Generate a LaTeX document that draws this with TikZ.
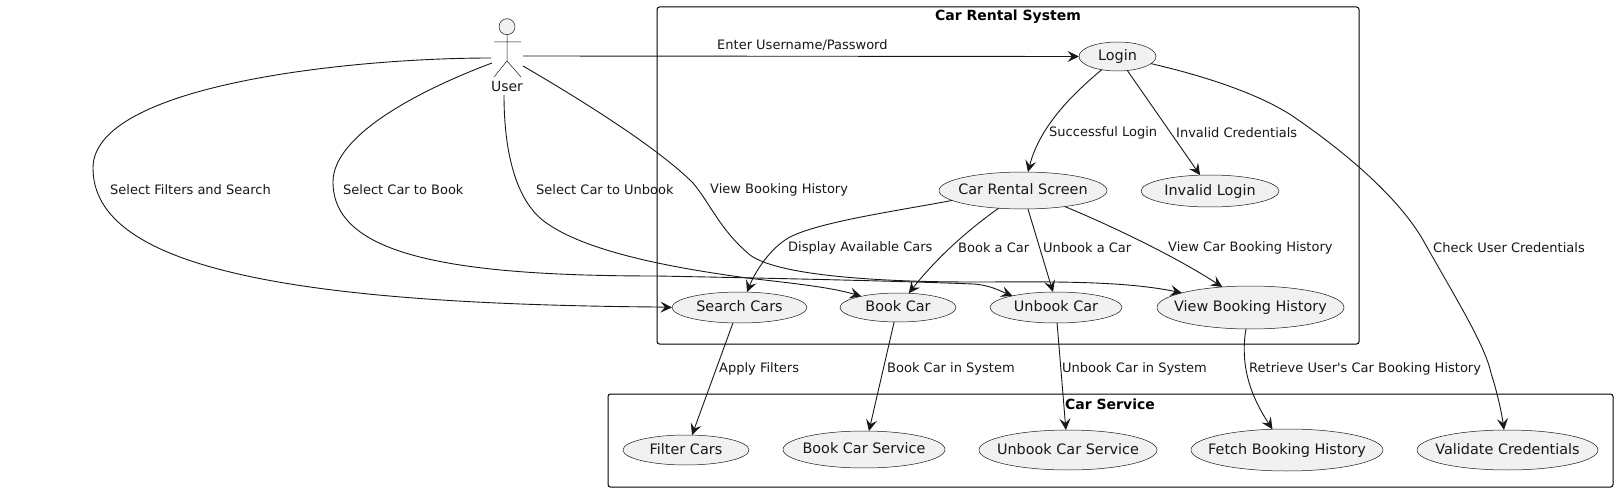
\documentclass[tikz,border=0pt]{standalone}
\usepackage{fontspec}
\setmainfont{DejaVu Sans}[Ligatures=TeXOff]
\usetikzlibrary{arrows.meta,shapes.geometric}
\definecolor{ink}{HTML}{181818}
\definecolor{usefill}{HTML}{F1F1F1}
\newcommand{\casetext}[1]{\makebox[0pt]{\raisebox{-0.31em}[0pt][0pt]{#1}}}
\tikzset{
  x=1pt,y=-1pt,
  usecase/.style={ellipse,draw=ink,line width=0.5pt,fill=usefill,inner sep=0pt,outer sep=0pt,text=ink,font=\fontsize{14.4}{16}\selectfont},
  sysbox/.style={rectangle,draw=black,line width=1pt,rounded corners=2.5pt,inner sep=0pt,outer sep=0pt},
  boxtitle/.style={font=\fontsize{14}{16}\selectfont\bfseries,text=black,inner sep=0pt},
  edge/.style={draw=ink,line width=0.9pt,-{Stealth[length=11.5pt,width=11pt,inset=4.5pt]}},
  elabel/.style={anchor=west,inner sep=0pt,text=ink,font=\fontsize{13}{15}\selectfont},
  actorline/.style={draw=ink,line width=0.5pt}
}
\begin{document}
\begin{tikzpicture}
\useasboundingbox (0,0) rectangle (1618,492);
\fill[white] (0,0) rectangle (1618,492);
% boxes
\node[sysbox,minimum width=702pt,minimum height=337pt] (sys) at (1008,175.5) {};
\node[sysbox,minimum width=1005pt,minimum height=93pt] (svc) at (1110.5,440.5) {};
\node[boxtitle] (systitle) at (1008,17) {Car Rental System};
\node[boxtitle] (svctitle) at (1110,404) {Car Service};
% actor
\draw[actorline,fill=usefill] (507,26.7) circle (8);
\draw[actorline] (507,34.7) -- (507,61) (494,42) -- (521,42) (494,77) -- (507,61) -- (521,77);
\node[inner sep=0pt,text=ink,font=\fontsize{14}{16}\selectfont] (user) at (507,86) {User};
\coordinate (uE) at (523,56);
\coordinate (uSE) at (523,66);
\coordinate (uW) at (491,58);
\coordinate (uSW) at (492,63);
\coordinate (uS) at (504,95);
% use cases
\node[usecase,minimum width=77pt,minimum height=29pt] (login) at (1117.5,56.5) {\casetext{Login}};
\node[usecase,minimum width=168pt,minimum height=37pt] (screen) at (1023,190.5) {\casetext{Car Rental Screen}};
\node[usecase,minimum width=138pt,minimum height=32pt] (invalid) at (1210,191) {\casetext{Invalid Login}};
\node[usecase,minimum width=135pt,minimum height=31pt] (search) at (739.5,307.5) {\casetext{Search Cars}};
\node[usecase,minimum width=116pt,minimum height=29pt] (book) at (898,307.5) {\casetext{Book Car}};
\node[usecase,minimum width=132pt,minimum height=31pt] (unbook) at (1056,307.5) {\casetext{Unbook Car}};
\node[usecase,minimum width=187pt,minimum height=43pt] (view) at (1250.5,307.5) {\casetext{View Booking History}};
\node[usecase,minimum width=126pt,minimum height=30pt] (filter) at (686,450) {\casetext{Filter Cars}};
\node[usecase,minimum width=162pt,minimum height=37pt] (booksvc) at (864,449.5) {\casetext{Book Car Service}};
\node[usecase,minimum width=178pt,minimum height=40pt] (unbooksvc) at (1068,450) {\casetext{Unbook Car Service}};
\node[usecase,minimum width=192pt,minimum height=42pt] (fetch) at (1287,450) {\casetext{Fetch Booking History}};
\node[usecase,minimum width=181pt,minimum height=40pt] (validate) at (1507.5,450) {\casetext{Validate Credentials}};
% connectors from the actor
\draw[edge] (uE) -- (login.180);
\draw[edge] (uW) .. controls (350,58) and (93,85) .. (93,168)
  .. controls (93,270) and (300,304) .. (657,307) -- (search.180);
\draw[edge] (uSW) .. controls (420,90) and (333,135) .. (333,182)
  .. controls (333,255) and (450,276) .. (657,276)
  .. controls (760,278) and (900,281) .. (973,284)
  .. controls (990,285) and (1000,291) .. (unbook.165);
\draw[edge] (uS) .. controls (504,150) and (515,200) .. (545,222)
  .. controls (590,255) and (690,270) .. (747,278)
  .. controls (790,283) and (830,287) .. (book.163);
\draw[edge] (uSE) .. controls (590,105) and (660,150) .. (693,183)
  .. controls (710,203) and (720,230) .. (750,255)
  .. controls (780,277) and (890,282) .. (973,282)
  .. controls (1040,282) and (1120,280) .. (view.168);
% connectors from Login and the screen
\draw[edge] (login.220) .. controls (1075,92) and (1040,125) .. (screen.75);
\draw[edge] (login.-55) -- (invalid.122);
\draw[edge] (login.-12) .. controls (1200,75) and (1255,92) .. (1291,115)
  .. controls (1350,155) and (1400,200) .. (1423,240)
  .. controls (1455,297) and (1485,345) .. (1491,373)
  .. controls (1498,395) and (1502,415) .. (validate.100);
\draw[edge] (screen.188) .. controls (890,212) and (820,222) .. (790,237)
  .. controls (770,248) and (755,272) .. (search.64);
\draw[edge] (screen.216) .. controls (965,232) and (935,260) .. (book.53);
\draw[edge] (screen.285) -- (unbook.101);
\draw[edge] (screen.-21.5) .. controls (1100,221) and (1170,253) .. (view.144);
% connectors to the service
\draw[edge] (search.247) -- (filter.68);
\draw[edge] (book.255) -- (booksvc.75);
\draw[edge] (unbook.274) -- (unbooksvc.96);
\draw[edge] (view.258) .. controls (1240,365) and (1250,395) .. (fetch.125.5);
% connector labels
\node[elabel] (l1) at (717,45) {Enter Username/Password};
\node[elabel] (l2) at (110,190) {Select Filters and Search};
\node[elabel] (l3) at (343,190) {Select Car to Book};
\node[elabel] (l4) at (536,190) {Select Car to Unbook};
\node[elabel] (l5) at (710,190) {View Booking History};
\node[elabel] (l6) at (1049,133) {Successful Login};
\node[elabel] (l7) at (1176,133) {Invalid Credentials};
\node[elabel] (l8) at (788,248) {Display Available Cars};
\node[elabel] (l9) at (958,248) {Book a Car};
\node[elabel] (l10) at (1043,248) {Unbook a Car};
\node[elabel] (l11) at (1168,248) {View Car Booking History};
\node[elabel] (l12) at (1433,248) {Check User Credentials};
\node[elabel] (l13) at (719,369) {Apply Filters};
\node[elabel] (l14) at (887,369) {Book Car in System};
\node[elabel] (l15) at (1062,369) {Unbook Car in System};
\node[elabel] (l16) at (1249,369) {Retrieve User's Car Booking History};
\end{tikzpicture}
\end{document}
